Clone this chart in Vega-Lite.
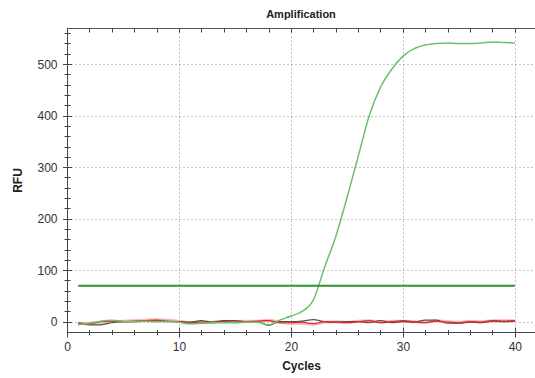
{
  "$schema": "https://vega.github.io/schema/vega-lite/v6.json",
  "width": 468,
  "height": 304,
  "autosize": "none",
  "padding": {"left": 67, "top": 28, "right": 0, "bottom": 46},
  "title": {"text": "Amplification", "fontSize": 11, "fontWeight": "bold", "color": "#222222", "anchor": "middle", "offset": 8, "font": "Liberation Sans"},
  "config": {
    "font": "Liberation Sans",
    "view": {"stroke": "#555555", "strokeWidth": 1},
    "axis": {"domainColor": "#444444", "tickColor": "#444444", "labelColor": "#333333", "labelFont": "Liberation Sans", "titleFont": "Liberation Sans", "labelFontSize": 12, "gridColor": "#8a8a8a", "gridDash": [1, 3], "gridWidth": 1, "labelFlush": false}
  },
  "datasets": {
    "traces": [
      {"cycle": 1, "rfu": -3, "series": "pink"}, {"cycle": 2, "rfu": -3, "series": "pink"}, {"cycle": 3, "rfu": -1, "series": "pink"}, {"cycle": 4, "rfu": 0, "series": "pink"}, {"cycle": 5, "rfu": 1, "series": "pink"}, {"cycle": 6, "rfu": 2, "series": "pink"}, {"cycle": 7, "rfu": 3, "series": "pink"}, {"cycle": 8, "rfu": 4, "series": "pink"}, {"cycle": 9, "rfu": 3, "series": "pink"}, {"cycle": 10, "rfu": 1, "series": "pink"},
      {"cycle": 11, "rfu": -2, "series": "pink"}, {"cycle": 12, "rfu": -2, "series": "pink"}, {"cycle": 13, "rfu": -1, "series": "pink"}, {"cycle": 14, "rfu": 1, "series": "pink"}, {"cycle": 15, "rfu": 0, "series": "pink"}, {"cycle": 16, "rfu": 1, "series": "pink"}, {"cycle": 17, "rfu": 1, "series": "pink"}, {"cycle": 18, "rfu": 3, "series": "pink"}, {"cycle": 19, "rfu": -1, "series": "pink"}, {"cycle": 20, "rfu": -3, "series": "pink"},
      {"cycle": 21, "rfu": -3, "series": "pink"}, {"cycle": 22, "rfu": -5, "series": "pink"}, {"cycle": 23, "rfu": -1, "series": "pink"}, {"cycle": 24, "rfu": 0, "series": "pink"}, {"cycle": 25, "rfu": -1, "series": "pink"}, {"cycle": 26, "rfu": 1, "series": "pink"}, {"cycle": 27, "rfu": 2, "series": "pink"}, {"cycle": 28, "rfu": -1, "series": "pink"}, {"cycle": 29, "rfu": 1, "series": "pink"}, {"cycle": 30, "rfu": 1, "series": "pink"},
      {"cycle": 31, "rfu": 0, "series": "pink"}, {"cycle": 32, "rfu": -1, "series": "pink"}, {"cycle": 33, "rfu": 2, "series": "pink"}, {"cycle": 34, "rfu": 0, "series": "pink"}, {"cycle": 35, "rfu": -1, "series": "pink"}, {"cycle": 36, "rfu": 1, "series": "pink"}, {"cycle": 37, "rfu": 0, "series": "pink"}, {"cycle": 38, "rfu": 2, "series": "pink"}, {"cycle": 39, "rfu": 2, "series": "pink"}, {"cycle": 40, "rfu": 2, "series": "pink"},

      {"cycle": 1, "rfu": -4, "series": "grey"}, {"cycle": 2, "rfu": -6, "series": "grey"}, {"cycle": 3, "rfu": -6, "series": "grey"}, {"cycle": 4, "rfu": -2, "series": "grey"}, {"cycle": 5, "rfu": 0, "series": "grey"}, {"cycle": 6, "rfu": 0, "series": "grey"}, {"cycle": 7, "rfu": 1, "series": "grey"}, {"cycle": 8, "rfu": 1, "series": "grey"}, {"cycle": 9, "rfu": 0, "series": "grey"}, {"cycle": 10, "rfu": 0, "series": "grey"},
      {"cycle": 11, "rfu": -1, "series": "grey"}, {"cycle": 12, "rfu": 2, "series": "grey"}, {"cycle": 13, "rfu": -1, "series": "grey"}, {"cycle": 14, "rfu": 2, "series": "grey"}, {"cycle": 15, "rfu": 2, "series": "grey"}, {"cycle": 16, "rfu": 0, "series": "grey"}, {"cycle": 17, "rfu": 0, "series": "grey"}, {"cycle": 18, "rfu": -7, "series": "grey"}, {"cycle": 19, "rfu": 0, "series": "grey"}, {"cycle": 20, "rfu": 0, "series": "grey"},
      {"cycle": 21, "rfu": 1, "series": "grey"}, {"cycle": 22, "rfu": 4, "series": "grey"}, {"cycle": 23, "rfu": 0, "series": "grey"}, {"cycle": 24, "rfu": -1, "series": "grey"}, {"cycle": 25, "rfu": 0, "series": "grey"}, {"cycle": 26, "rfu": 0, "series": "grey"}, {"cycle": 27, "rfu": -2, "series": "grey"}, {"cycle": 28, "rfu": 2, "series": "grey"}, {"cycle": 29, "rfu": -2, "series": "grey"}, {"cycle": 30, "rfu": 0, "series": "grey"},
      {"cycle": 31, "rfu": -1, "series": "grey"}, {"cycle": 32, "rfu": 3, "series": "grey"}, {"cycle": 33, "rfu": 3, "series": "grey"}, {"cycle": 34, "rfu": -3, "series": "grey"}, {"cycle": 35, "rfu": -3, "series": "grey"}, {"cycle": 36, "rfu": -1, "series": "grey"}, {"cycle": 37, "rfu": -2, "series": "grey"}, {"cycle": 38, "rfu": 1, "series": "grey"}, {"cycle": 39, "rfu": 0, "series": "grey"}, {"cycle": 40, "rfu": 1, "series": "grey"},

      {"cycle": 1, "rfu": -2, "series": "red"}, {"cycle": 2, "rfu": -4, "series": "red"}, {"cycle": 3, "rfu": 0, "series": "red"}, {"cycle": 4, "rfu": 1, "series": "red"}, {"cycle": 5, "rfu": 0, "series": "red"}, {"cycle": 6, "rfu": 1, "series": "red"}, {"cycle": 7, "rfu": 2, "series": "red"}, {"cycle": 8, "rfu": 3, "series": "red"}, {"cycle": 9, "rfu": 1, "series": "red"}, {"cycle": 10, "rfu": 0, "series": "red"},
      {"cycle": 11, "rfu": -2, "series": "red"}, {"cycle": 12, "rfu": -1, "series": "red"}, {"cycle": 13, "rfu": -2, "series": "red"}, {"cycle": 14, "rfu": 0, "series": "red"}, {"cycle": 15, "rfu": -1, "series": "red"}, {"cycle": 16, "rfu": 0, "series": "red"}, {"cycle": 17, "rfu": 1, "series": "red"}, {"cycle": 18, "rfu": 2, "series": "red"}, {"cycle": 19, "rfu": -2, "series": "red"}, {"cycle": 20, "rfu": -2, "series": "red"},
      {"cycle": 21, "rfu": -1, "series": "red"}, {"cycle": 22, "rfu": -4, "series": "red"}, {"cycle": 23, "rfu": 0, "series": "red"}, {"cycle": 24, "rfu": -1, "series": "red"}, {"cycle": 25, "rfu": -2, "series": "red"}, {"cycle": 26, "rfu": 0, "series": "red"}, {"cycle": 27, "rfu": 2, "series": "red"}, {"cycle": 28, "rfu": -2, "series": "red"}, {"cycle": 29, "rfu": 0, "series": "red"}, {"cycle": 30, "rfu": 2, "series": "red"},
      {"cycle": 31, "rfu": 0, "series": "red"}, {"cycle": 32, "rfu": -2, "series": "red"}, {"cycle": 33, "rfu": 1, "series": "red"}, {"cycle": 34, "rfu": -1, "series": "red"}, {"cycle": 35, "rfu": -2, "series": "red"}, {"cycle": 36, "rfu": 0, "series": "red"}, {"cycle": 37, "rfu": -1, "series": "red"}, {"cycle": 38, "rfu": 2, "series": "red"}, {"cycle": 39, "rfu": 1, "series": "red"}, {"cycle": 40, "rfu": 2, "series": "red"},

      {"cycle": 1, "rfu": -6, "series": "green"}, {"cycle": 2, "rfu": -3, "series": "green"}, {"cycle": 3, "rfu": 1, "series": "green"}, {"cycle": 4, "rfu": 3, "series": "green"}, {"cycle": 5, "rfu": 1, "series": "green"}, {"cycle": 6, "rfu": 0, "series": "green"}, {"cycle": 7, "rfu": 1, "series": "green"}, {"cycle": 8, "rfu": 0, "series": "green"}, {"cycle": 9, "rfu": 1, "series": "green"}, {"cycle": 10, "rfu": -1, "series": "green"},
      {"cycle": 11, "rfu": -4, "series": "green"}, {"cycle": 12, "rfu": -3, "series": "green"}, {"cycle": 13, "rfu": -2, "series": "green"}, {"cycle": 14, "rfu": -2, "series": "green"}, {"cycle": 15, "rfu": -2, "series": "green"}, {"cycle": 16, "rfu": -1, "series": "green"}, {"cycle": 17, "rfu": -1, "series": "green"}, {"cycle": 18, "rfu": -6, "series": "green"}, {"cycle": 19, "rfu": 3, "series": "green"}, {"cycle": 20, "rfu": 11, "series": "green"},
      {"cycle": 21, "rfu": 20, "series": "green"}, {"cycle": 22, "rfu": 42, "series": "green"}, {"cycle": 23, "rfu": 105, "series": "green"}, {"cycle": 24, "rfu": 165, "series": "green"}, {"cycle": 25, "rfu": 240, "series": "green"}, {"cycle": 26, "rfu": 320, "series": "green"}, {"cycle": 27, "rfu": 400, "series": "green"}, {"cycle": 28, "rfu": 455, "series": "green"}, {"cycle": 29, "rfu": 490, "series": "green"}, {"cycle": 30, "rfu": 515, "series": "green"},
      {"cycle": 31, "rfu": 530, "series": "green"}, {"cycle": 32, "rfu": 537, "series": "green"}, {"cycle": 33, "rfu": 540, "series": "green"}, {"cycle": 34, "rfu": 541, "series": "green"}, {"cycle": 35, "rfu": 540, "series": "green"}, {"cycle": 36, "rfu": 540, "series": "green"}, {"cycle": 37, "rfu": 541, "series": "green"}, {"cycle": 38, "rfu": 543, "series": "green"}, {"cycle": 39, "rfu": 542, "series": "green"}, {"cycle": 40, "rfu": 541, "series": "green"},

      {"cycle": 1, "rfu": 70, "series": "threshold"}, {"cycle": 40, "rfu": 70, "series": "threshold"}
    ]
  },
  "data": {"name": "traces"},
  "resolve": {"axis": {"x": "independent", "y": "independent"}},
  "layer": [
    {
      "transform": [{"filter": "datum.series === 'pink'"}],
      "mark": {"type": "line", "interpolate": "monotone", "color": "#f7a8a8", "strokeWidth": 3, "opacity": 0.85},
      "encoding": {
        "x": {"field": "cycle", "type": "quantitative", "scale": {"domain": [0, 41.8], "nice": false, "zero": false},
          "axis": {"orient": "bottom", "values": [0, 10, 20, 30, 40], "format": "d", "ticks": false, "tickSize": 0, "labelPadding": 9, "grid": true, "title": "Cycles", "titleFontSize": 12, "titleFontWeight": "bold", "titleColor": "#222222", "titlePadding": 8}},
        "y": {"field": "rfu", "type": "quantitative", "scale": {"domain": [-20, 570], "nice": false, "zero": false},
          "axis": {"orient": "left", "values": [0, 100, 200, 300, 400, 500], "format": "d", "ticks": false, "tickSize": 0, "labelPadding": 10, "grid": true, "title": "RFU", "titleFontSize": 12, "titleFontWeight": "bold", "titleColor": "#222222", "titlePadding": 12}}
      }
    },
    {
      "transform": [{"filter": "datum.series === 'grey'"}],
      "mark": {"type": "line", "interpolate": "monotone", "color": "#505050", "strokeWidth": 1.2},
      "encoding": {
        "x": {"field": "cycle", "type": "quantitative",
          "axis": {"orient": "bottom", "values": [0, 10, 20, 30, 40], "offset": -5, "tickSize": 10, "labels": false, "domain": false, "grid": false, "title": null}},
        "y": {"field": "rfu", "type": "quantitative",
          "axis": {"orient": "left", "values": [0, 100, 200, 300, 400, 500], "offset": -4.5, "tickSize": 9, "labels": false, "domain": false, "grid": false, "title": null}}
      }
    },
    {
      "transform": [{"filter": "datum.series === 'red'"}],
      "mark": {"type": "line", "interpolate": "monotone", "color": "#e02424", "strokeWidth": 1.2},
      "encoding": {
        "x": {"field": "cycle", "type": "quantitative",
          "axis": {"orient": "bottom", "values": [2, 4, 6, 8, 12, 14, 16, 18, 22, 24, 26, 28, 32, 34, 36, 38], "offset": -2.5, "tickSize": 5, "labels": false, "domain": false, "grid": false, "title": null}},
        "y": {"field": "rfu", "type": "quantitative",
          "axis": {"orient": "left", "values": [20, 40, 60, 80, 120, 140, 160, 180, 220, 240, 260, 280, 320, 340, 360, 380, 420, 440, 460, 480, 520, 540, 560], "offset": -3, "tickSize": 6, "labels": false, "domain": false, "grid": false, "title": null}}
      }
    },
    {
      "transform": [{"filter": "datum.series === 'green'"}],
      "mark": {"type": "line", "interpolate": "monotone", "color": "#6cc06c", "strokeWidth": 1.5},
      "encoding": {
        "x": {"field": "cycle", "type": "quantitative",
          "axis": {"orient": "top", "values": [2, 4, 6, 8, 10, 12, 14, 16, 18, 20, 22, 24, 26, 28, 30, 32, 34, 36, 38, 40], "offset": -4, "tickSize": 4, "labels": false, "domain": false, "grid": false, "title": null}},
        "y": {"field": "rfu", "type": "quantitative", "axis": null}
      }
    },
    {
      "transform": [{"filter": "datum.series === 'threshold'"}],
      "mark": {"type": "line", "color": "#2b942b", "strokeWidth": 2},
      "encoding": {
        "x": {"field": "cycle", "type": "quantitative", "axis": null},
        "y": {"field": "rfu", "type": "quantitative", "axis": null}
      }
    }
  ]
}
